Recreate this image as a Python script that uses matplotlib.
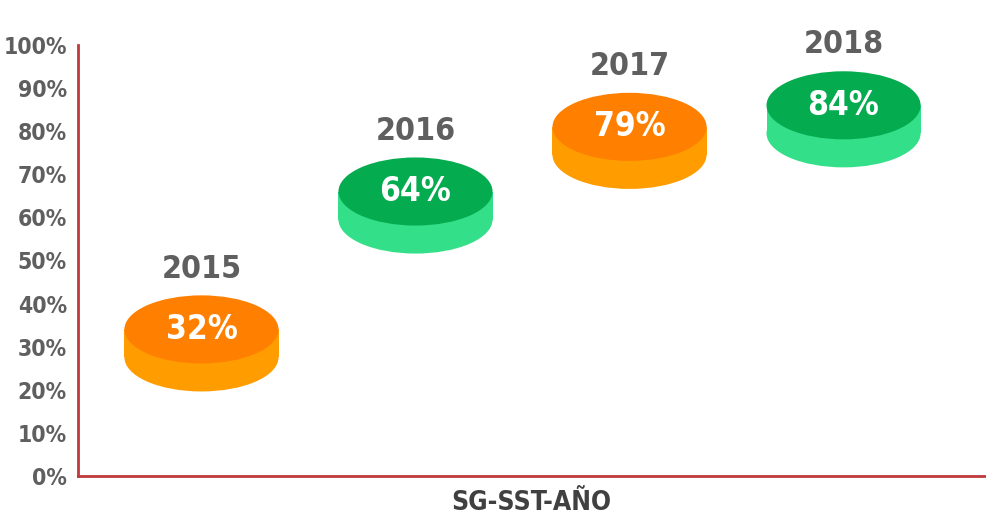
import matplotlib
matplotlib.use("Agg")
import matplotlib.pyplot as plt
from matplotlib.patches import Ellipse, Rectangle

plt.rcParams['font.family'] = ['DejaVu Sans']
plt.rcParams['font.stretch'] = 'condensed'
plt.rcParams['font.weight'] = 'bold'

years = ["2015", "2016", "2017", "2018"]
values = [32, 64, 79, 84]
top_colors = ["#FF7F00", "#05AB4F", "#FF7F00", "#05AB4F"]
side_colors = ["#FF9C00", "#33DF88", "#FF9C00", "#33DF88"]
y_ticks = list(range(0, 101, 10))

gray = "#5F5F5F"
red = "#C0393B"

fig = plt.figure(figsize=(9.87, 5.23), dpi=100)
ax = fig.add_axes([0.079, 0.09, 0.919, 0.824])

disc_w = 0.72     # disc width in x units
disc_h = 15.8     # top ellipse height in y units
depth = 6.5       # thickness of disc
lift = 2.0        # small offset so the disc sits on the value

for i, (yr, v) in enumerate(zip(years, values)):
    yc = v + lift
    # side of the disc: lower ellipse + band
    ax.add_patch(Ellipse((i, yc - depth), disc_w, disc_h, color=side_colors[i], lw=0, clip_on=False))
    ax.add_patch(Rectangle((i - disc_w / 2, yc - depth), disc_w, depth, color=side_colors[i], lw=0, clip_on=False))
    # top of the disc
    ax.add_patch(Ellipse((i, yc), disc_w, disc_h, color=top_colors[i], lw=0, clip_on=False))
    ax.text(i, yc, f"{v}%", color="white", fontsize=24, fontweight="bold",
            ha="center", va="center")
    ax.text(i, yc + disc_h / 2 + 2.5, yr, color=gray, fontsize=23, fontweight="bold",
            ha="center", va="bottom", clip_on=False)

ax.set_xlim(-0.577, 3.661)
ax.set_ylim(0, 100)
ax.set_yticks(y_ticks)
ax.set_yticklabels([f"{t}%" for t in y_ticks])
ax.set_xticks([])
ax.tick_params(axis="y", length=0, pad=8, labelsize=16.5, labelcolor=gray)
for lab in ax.get_yticklabels():
    lab.set_fontweight("bold")

ax.set_xlabel("SG-SST-AÑO", fontsize=19, fontweight="bold", color="#404040", labelpad=10)

for s in ["top", "right"]:
    ax.spines[s].set_visible(False)
for s in ["left", "bottom"]:
    ax.spines[s].set_color(red)
    ax.spines[s].set_linewidth(2)

fig.savefig("out.png", dpi=100)
